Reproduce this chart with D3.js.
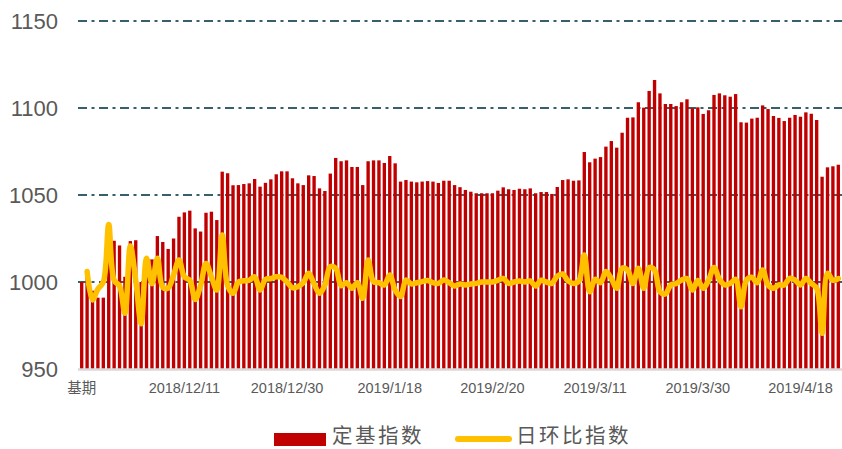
<!DOCTYPE html>
<html><head><meta charset="utf-8">
<script src="https://cdn.jsdelivr.net/npm/d3@7"></script>
<style>body{margin:0;background:#fff;} svg{display:block;}</style>
</head><body><svg id="chart" width="842" height="449"></svg>
<script>
const categories = ["基期",
"2018/11/23","2018/11/24","2018/11/25","2018/11/26","2018/11/27","2018/11/28","2018/11/29","2018/11/30",
"2018/12/1","2018/12/2","2018/12/3","2018/12/4","2018/12/5","2018/12/6","2018/12/7","2018/12/8","2018/12/9","2018/12/10",
"2018/12/11","2018/12/12","2018/12/13","2018/12/14","2018/12/15","2018/12/16","2018/12/17","2018/12/18","2018/12/19","2018/12/20",
"2018/12/21","2018/12/22","2018/12/23","2018/12/24","2018/12/25","2018/12/26","2018/12/27","2018/12/28","2018/12/29","2018/12/30","2018/12/31",
"2019/1/1","2019/1/2","2019/1/3","2019/1/4","2019/1/5","2019/1/6","2019/1/7","2019/1/8","2019/1/9","2019/1/10",
"2019/1/11","2019/1/12","2019/1/13","2019/1/14","2019/1/15","2019/1/16","2019/1/17","2019/1/18","2019/1/19","2019/1/20",
"2019/1/21","2019/1/22","2019/1/23","2019/1/24","2019/1/25","2019/1/26","2019/1/27","2019/1/28","2019/1/29","2019/1/30","2019/1/31",
"2019/2/15","2019/2/16","2019/2/17","2019/2/18","2019/2/19","2019/2/20",
"2019/2/21","2019/2/22","2019/2/23","2019/2/24","2019/2/25","2019/2/26","2019/2/27","2019/2/28",
"2019/3/1","2019/3/2","2019/3/3","2019/3/4","2019/3/5","2019/3/6","2019/3/7","2019/3/8","2019/3/9","2019/3/10",
"2019/3/11","2019/3/12","2019/3/13","2019/3/14","2019/3/15","2019/3/16","2019/3/17","2019/3/18","2019/3/19","2019/3/20",
"2019/3/21","2019/3/22","2019/3/23","2019/3/24","2019/3/25","2019/3/26","2019/3/27","2019/3/28","2019/3/29","2019/3/30","2019/3/31",
"2019/4/1","2019/4/2","2019/4/3","2019/4/4","2019/4/5","2019/4/6","2019/4/7","2019/4/8","2019/4/9","2019/4/10",
"2019/4/11","2019/4/12","2019/4/13","2019/4/14","2019/4/15","2019/4/16","2019/4/17","2019/4/18","2019/4/19","2019/4/20",
"2019/4/21","2019/4/22","2019/4/23","2019/4/24","2019/4/25"];

const baseIndex = [
1000,1005,995,991,991,1023.5,1023.7,1021,1003,1023.5,
1024,1000,1013.5,1013,1026.4,1023,1019,1025,1037.5,1040,
1041,1030.8,1029,1039.8,1040.4,1035.6,1063.4,1062.5,1055.6,1055.7,
1056.3,1056.7,1059.2,1054.8,1057,1059,1061.9,1063.6,1063.6,1059.6,
1056.7,1055.7,1061.3,1060.9,1053.8,1052.3,1062.3,1071.3,1069.4,1069.9,
1066.1,1066.1,1055.7,1069.4,1069.9,1069.9,1068.4,1072.4,1068.2,1057.7,
1058.6,1057.7,1057.3,1057.7,1058,1057.7,1056.9,1058.2,1058.2,1055.7,
1054.5,1052.9,1051.9,1051,1051,1051,1051,1052.5,1054.4,1053.3,
1052.9,1053.6,1053.3,1053.8,1051,1051.7,1051.7,1050.6,1054.6,1058.6,
1059,1058.2,1058.4,1074.7,1068.8,1070.9,1071.8,1077.8,1081,1077.2,
1085.8,1094.4,1094.6,1103.3,1100.2,1109.8,1116.1,1108.4,1102.3,1102.3,
1101.1,1103.3,1105,1099.8,1100.4,1096.6,1098.7,1107.5,1108.4,1107.3,
1106.5,1108,1091.8,1091.6,1093.9,1094.4,1101.5,1099.4,1095.4,1094.3,
1092.5,1094.4,1096,1095,1097.5,1096.7,1093.1,1060.5,1065.9,1066.5,
1067.4];

const dailyRatio = [
null,1006,989.7,996,1000,1033,1001,997.7,982,1020.7,
1001,976,1013.6,999,1013.6,997,996.5,1004,1012.6,1003,
1001,990,998,1010.7,1003,995.4,1027,998,993.5,1000,
1000.7,1001,1003,995.4,1001.5,1002,1003,1002.7,1000,996.7,
997.3,999.6,1005,998.9,993.5,998.3,1008.8,1007.9,997.9,999.6,
996.4,999.6,990.6,1012.6,1000.2,999.6,998.3,1004,995.4,991.6,
1001.1,998.9,999.6,1000.2,1000.8,999.6,999.2,1001.1,999.6,997.7,
998.9,998.3,998.9,999.2,1000,1000,1000,1001,1002,999.2,
1000,1000.6,1000,1000.6,997.7,1001,1000,999.2,1003.4,1004.6,
1000.6,999.2,1000.6,1015.5,994.4,1001.5,999.6,1006,1002,996.4,
1007.9,1006.9,999.2,1007.9,996.4,1008.3,1006.9,994.4,993.1,998.3,
999.2,1001.1,1002,995.4,1000.8,996.4,1001.1,1008.4,1001.5,998.3,
999.2,1001.5,985.8,1001,1002.7,999.6,1006.9,998.3,996.4,998.3,
998.3,1002.1,1001.1,998.3,1002,999.2,996.4,970.5,1005,1001,
1002];

const yTicks = [950, 1000, 1050, 1100, 1150];
const xTickLabels = ["基期","2018/12/11","2018/12/30","2019/1/18","2019/2/20","2019/3/11","2019/3/30","2019/4/18"];
const seriesNames = ["定基指数", "日环比指数"];

const svg = d3.select("#chart");
const plotLeft = 79, plotRight = 841, plotTop = 21, plotBottom = 369;
const x = d3.scaleBand().domain(categories).range([plotLeft, plotRight]).paddingInner(0.38).paddingOuter(0.19);
const y = d3.scaleLinear().domain([950, 1150]).range([plotBottom, plotTop]);
const bw = x.bandwidth();
const cjk = "'Noto Sans CJK SC', 'Noto Sans', sans-serif";
const txtColor = "#595959";

// gridlines
svg.append("g").selectAll("line").data(yTicks.filter(v => v > 950)).join("line")
  .attr("x1", 78).attr("x2", 842)
  .attr("y1", d => y(d)).attr("y2", d => y(d))
  .attr("stroke", "#36606c").attr("stroke-width", 2)
  .attr("stroke-dasharray", "9,4.5,3,4.5");

// y axis labels
const yAxis = svg.append("g").attr("transform", `translate(58,0)`)
  .call(d3.axisLeft(y).tickValues(yTicks).tickSize(0).tickPadding(0).tickFormat(d3.format("d")));
yAxis.select(".domain").remove();
yAxis.selectAll("text").attr("fill", txtColor).style("font-family", "'Liberation Sans', Arial, sans-serif").style("font-size", "22px");

// bars
svg.append("g").selectAll("rect").data(baseIndex).join("rect")
  .attr("x", (d, i) => x(categories[i]))
  .attr("width", bw)
  .attr("y", d => y(d))
  .attr("height", d => plotBottom - y(d))
  .attr("fill", "#C00000");

// x axis
const xAxis = svg.append("g").attr("transform", `translate(0,${plotBottom})`)
  .call(d3.axisBottom(x).tickValues(xTickLabels).tickSize(0).tickSizeOuter(0).tickPadding(14));
xAxis.select(".domain").attr("stroke", "#D9D9D9").attr("stroke-width", 2.5).attr("d", `M78,0.5H842`);
xAxis.selectAll("text").attr("fill", txtColor)
  .style("font-family", "'Liberation Sans', Arial, " + cjk).style("font-size", "14.5px");

// line
const line = d3.line()
  .defined(d => d != null)
  .x((d, i) => x(categories[i]) + bw / 2)
  .y(d => y(d))
  .curve(d3.curveCatmullRom.alpha(0.5));
svg.append("path").datum(dailyRatio)
  .attr("d", line)
  .attr("fill", "none").attr("stroke", "#FFC000").attr("stroke-width", 5.5)
  .attr("stroke-linejoin", "round").attr("stroke-linecap", "round");

// legend
const lg = svg.append("g");
lg.append("rect").attr("x", 274).attr("y", 433).attr("width", 52).attr("height", 13).attr("fill", "#C00000");
lg.append("text").attr("x", 332).attr("y", 442.5)
  .attr("fill", txtColor).style("font-family", cjk).style("font-size", "20.5px").style("letter-spacing", "2.5px").text(seriesNames[0]);
lg.append("line").attr("x1", 458).attr("x2", 509).attr("y1", 439).attr("y2", 439)
  .attr("stroke", "#FFC000").attr("stroke-width", 6).attr("stroke-linecap", "round");
lg.append("text").attr("x", 516).attr("y", 442.5)
  .attr("fill", txtColor).style("font-family", cjk).style("font-size", "20.5px").style("letter-spacing", "2.5px").text(seriesNames[1]);
</script></body></html>
